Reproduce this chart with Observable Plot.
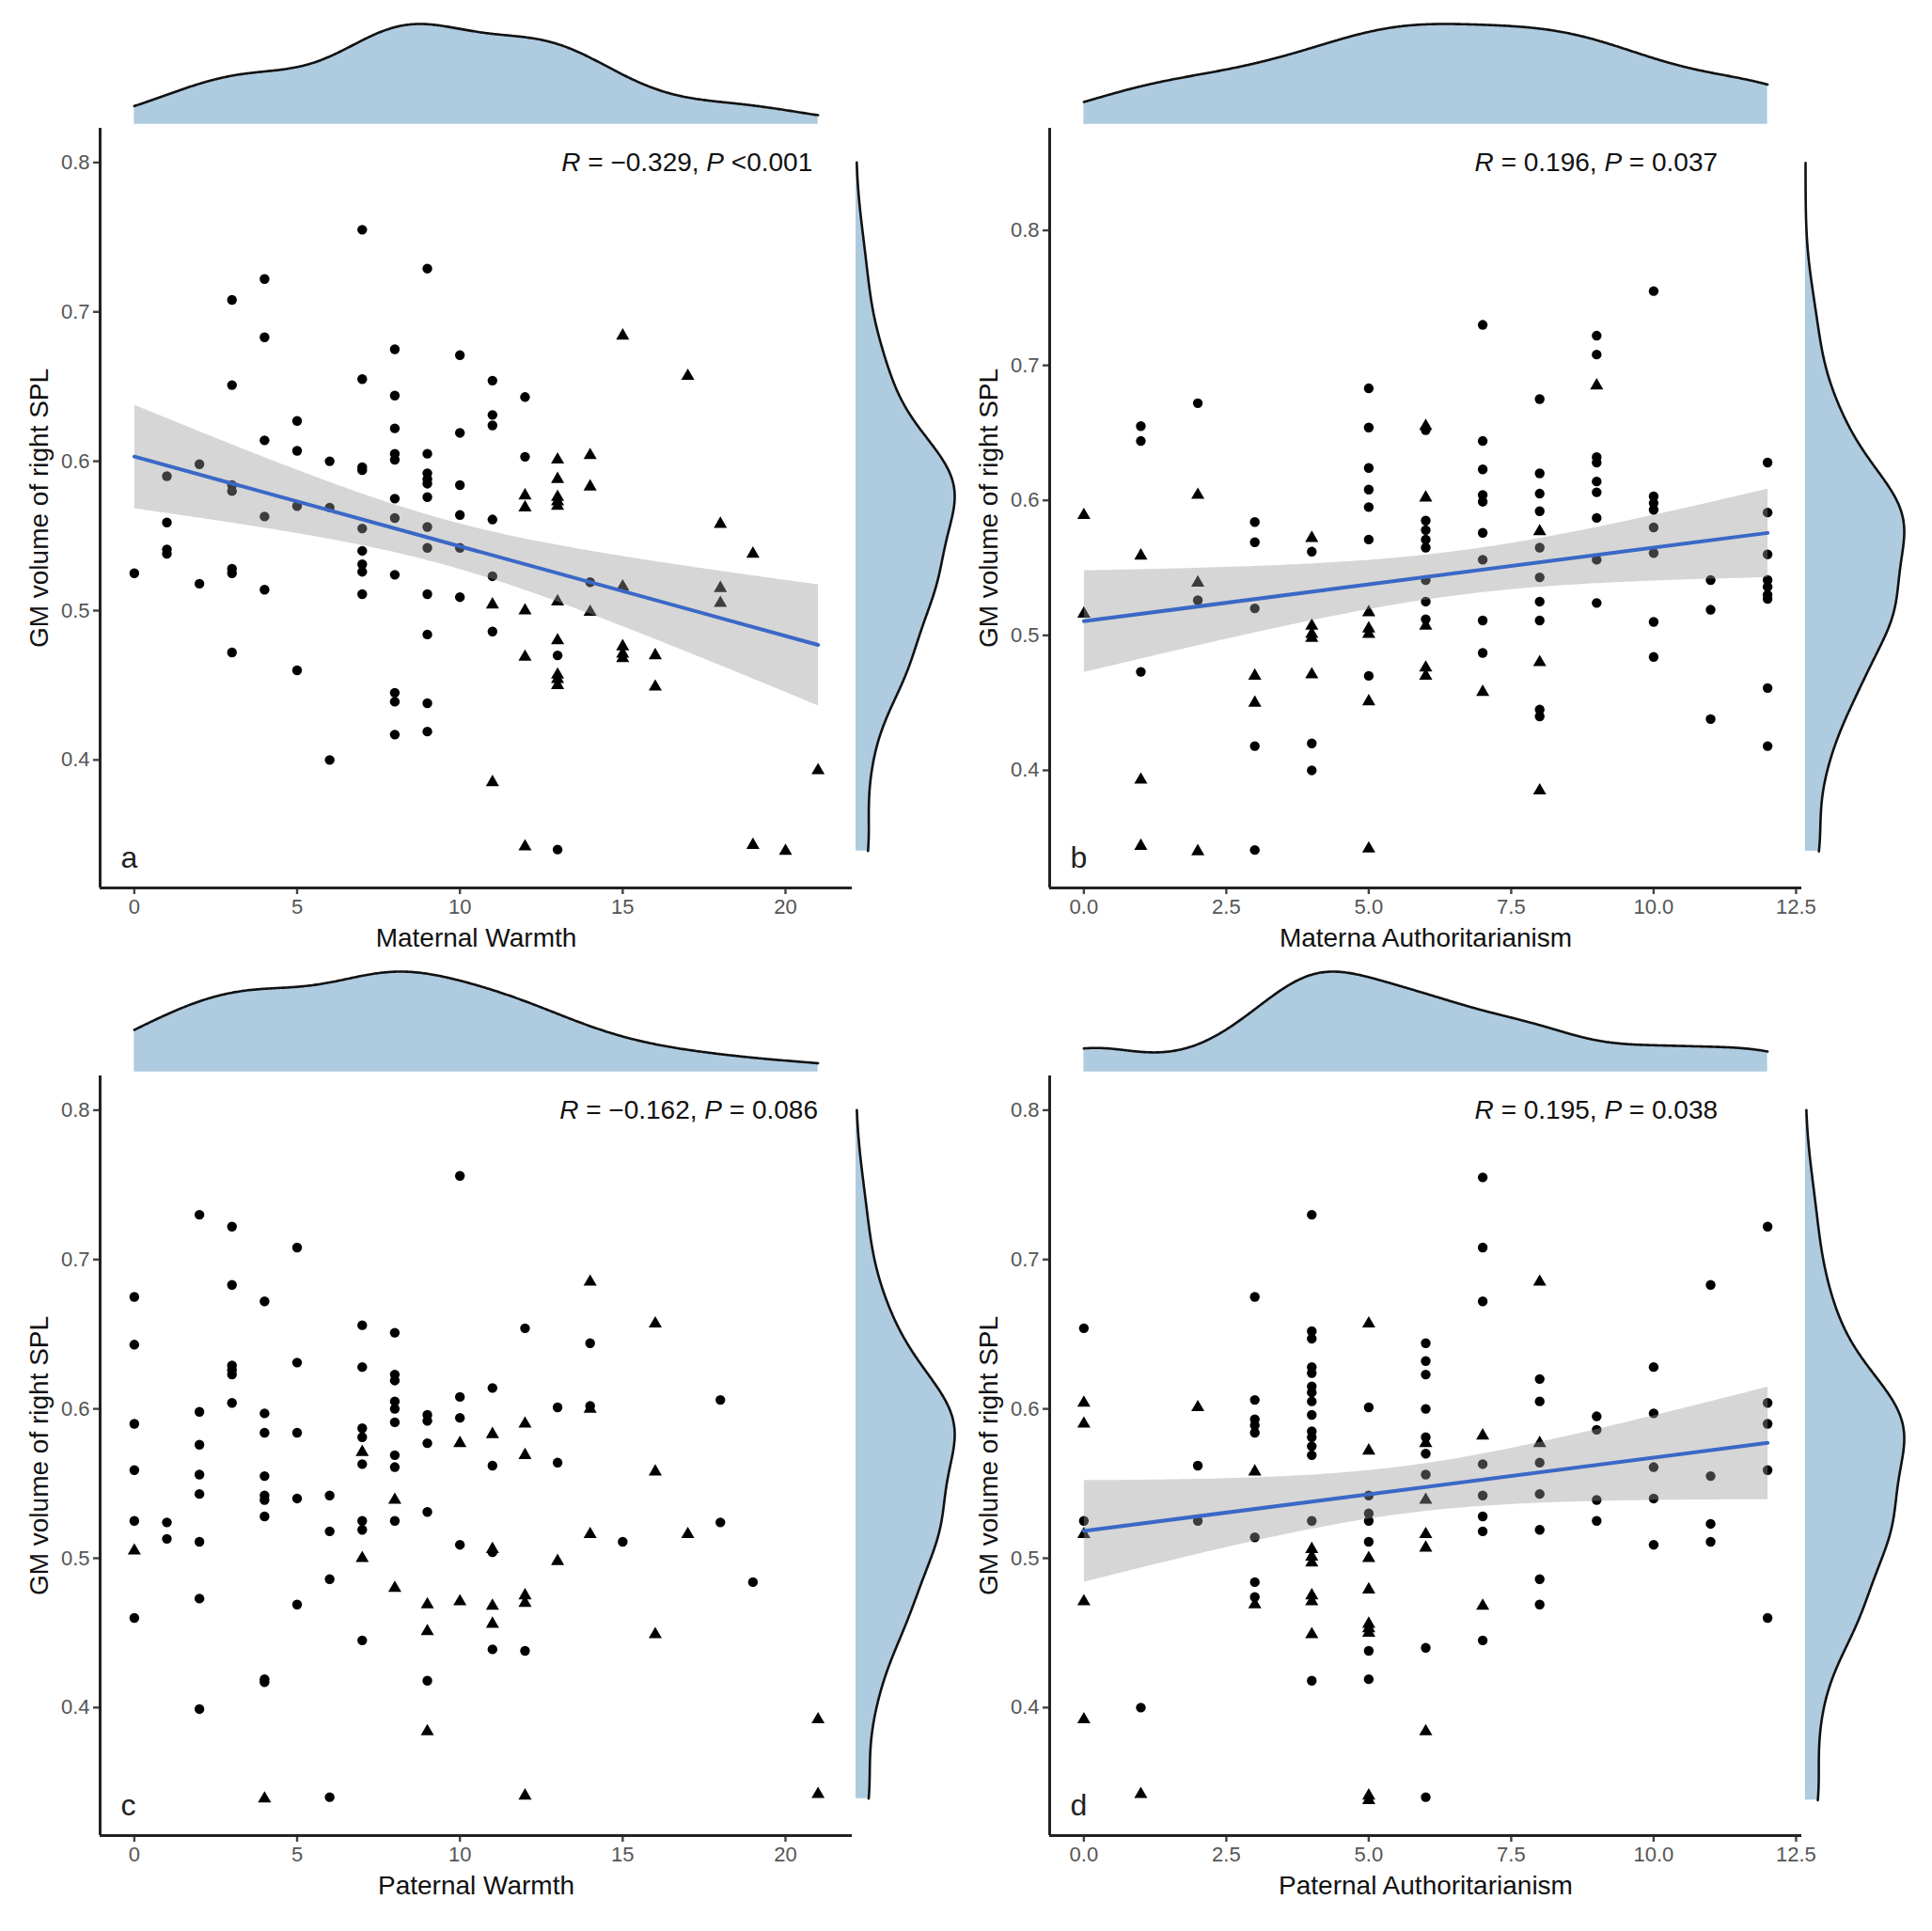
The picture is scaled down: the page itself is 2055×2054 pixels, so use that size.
<!DOCTYPE html>
<html><head><meta charset="utf-8">
<script src="https://cdn.jsdelivr.net/npm/d3@7"></script>
<script src="https://cdn.jsdelivr.net/npm/@observablehq/plot@0.6"></script>
<style>
html,body{margin:0;padding:0;background:#fff;}
#root{position:relative;width:2055px;height:2054px;overflow:hidden;background:#fff;}
.piece{position:absolute;}
.piece svg{max-width:none !important;display:block;}
</style></head><body><div id="root"></div>
<script>
// ---------------- data ----------------
const yTitle = "GM volume of right SPL";
const xTitles = ["Maternal Warmth", "Materna Authoritarianism", "Paternal Warmth", "Paternal Authoritarianism"];
const letters = ["a", "b", "c", "d"];
const rValues = ["−0.329", "0.196", "−0.162", "0.195"];
const pValues = ["<0.001", "= 0.037", "= 0.086", "= 0.038"];
const yTicks = [0.4, 0.5, 0.6, 0.7, 0.8];
const warmthTicks = [0, 5, 10, 15, 20];
const authTicks = [0, 2.5, 5, 7.5, 10, 12.5];

const panelA_circles = [
 [0,.525],
 [1,.590],[1,.559],[1,.541],[1,.538],
 [2,.598],[2,.518],
 [3,.708],[3,.651],[3,.584],[3,.580],[3,.528],[3,.525],[3,.472],
 [4,.722],[4,.683],[4,.614],[4,.563],[4,.514],
 [5,.627],[5,.607],[5,.570],[5,.460],
 [6,.600],[6,.569],[6,.400],
 [7,.755],[7,.655],[7,.596],[7,.594],[7,.555],[7,.540],[7,.531],[7,.526],[7,.511],
 [8,.675],[8,.644],[8,.622],[8,.605],[8,.601],[8,.575],[8,.562],[8,.524],[8,.445],[8,.439],[8,.417],
 [9,.729],[9,.605],[9,.592],[9,.588],[9,.585],[9,.576],[9,.556],[9,.542],[9,.511],[9,.484],[9,.438],[9,.419],
 [10,.671],[10,.619],[10,.584],[10,.564],[10,.542],[10,.509],
 [11,.654],[11,.631],[11,.624],[11,.561],[11,.523],[11,.486],
 [12,.643],[12,.603],
 [13,.470],[13,.340],
 [14,.519]
];
const panelA_triangles = [
 [11,.504],[11,.385],
 [12,.577],[12,.569],[12,.500],[12,.469],[12,.342],
 [13,.601],[13,.588],[13,.576],[13,.573],[13,.570],[13,.506],[13,.480],[13,.457],[13,.454],[13,.450],
 [14,.604],[14,.583],[14,.499],
 [15,.684],[15,.516],[15,.476],[15,.471],[15,.468],
 [16,.470],[16,.449],
 [17,.657],
 [18,.558],[18,.515],[18,.505],
 [19,.538],[19,.343],
 [20,.339],
 [21,.393]
];

const panelB_circles = [
 [1,.655],[1,.644],[1,.473],
 [2,.672],[2,.526],
 [3,.584],[3,.569],[3,.520],[3,.418],[3,.341],
 [4,.562],[4,.420],[4,.400],
 [5,.683],[5,.654],[5,.624],[5,.608],[5,.595],[5,.571],[5,.470],
 [6,.652],[6,.585],[6,.578],[6,.571],[6,.565],[6,.541],[6,.525],[6,.512],
 [7,.730],[7,.644],[7,.623],[7,.604],[7,.599],[7,.576],[7,.556],[7,.511],[7,.487],
 [8,.675],[8,.620],[8,.605],[8,.592],[8,.565],[8,.543],[8,.525],[8,.511],[8,.445],[8,.440],
 [9,.722],[9,.708],[9,.632],[9,.628],[9,.614],[9,.606],[9,.587],[9,.556],[9,.524],
 [10,.755],[10,.603],[10,.598],[10,.593],[10,.580],[10,.561],[10,.510],[10,.484],
 [11,.541],[11,.519],[11,.438],
 [12,.628],[12,.591],[12,.560],[12,.541],[12,.536],[12,.530],[12,.527],[12,.461],[12,.418]
];
const panelB_triangles = [
 [0,.589],[0,.516],
 [1,.559],[1,.393],[1,.344],
 [2,.604],[2,.539],[2,.340],
 [3,.470],[3,.450],
 [4,.572],[4,.507],[4,.501],[4,.498],[4,.471],
 [5,.517],[5,.505],[5,.501],[5,.451],[5,.342],
 [6,.655],[6,.602],[6,.507],[6,.476],[6,.470],
 [7,.458],
 [8,.577],[8,.480],[8,.385],
 [9,.685]
];

const panelC_circles = [
 [0,.675],[0,.643],[0,.590],[0,.559],[0,.525],[0,.460],
 [1,.524],[1,.513],
 [2,.730],[2,.598],[2,.576],[2,.556],[2,.543],[2,.511],[2,.473],[2,.399],
 [3,.722],[3,.683],[3,.629],[3,.626],[3,.623],[3,.604],
 [4,.672],[4,.597],[4,.584],[4,.555],[4,.542],[4,.539],[4,.528],[4,.419],[4,.417],
 [5,.708],[5,.631],[5,.584],[5,.540],[5,.469],
 [6,.542],[6,.518],[6,.486],[6,.340],
 [7,.656],[7,.628],[7,.587],[7,.581],[7,.563],[7,.525],[7,.519],[7,.445],
 [8,.651],[8,.623],[8,.619],[8,.605],[8,.600],[8,.591],[8,.569],[8,.561],[8,.525],
 [9,.596],[9,.592],[9,.577],[9,.531],[9,.418],
 [10,.756],[10,.608],[10,.594],[10,.509],
 [11,.614],[11,.562],[11,.504],[11,.439],
 [12,.654],[12,.438],
 [13,.601],[13,.564],
 [14,.644],[14,.602],
 [15,.511],
 [18,.606],[18,.524],
 [19,.484]
];
const panelC_triangles = [
 [0,.505],
 [4,.339],
 [7,.571],[7,.500],
 [8,.539],[8,.480],
 [9,.469],[9,.451],[9,.384],
 [10,.577],[10,.471],
 [11,.583],[11,.506],[11,.468],[11,.456],
 [12,.590],[12,.569],[12,.475],[12,.470],[12,.341],
 [13,.498],
 [14,.685],[14,.600],[14,.516],
 [16,.657],[16,.558],[16,.449],
 [17,.516],
 [21,.392],[21,.342]
];

const panelD_circles = [
 [0,.654],[0,.525],
 [1,.400],
 [2,.562],[2,.525],
 [3,.675],[3,.606],[3,.593],[3,.589],[3,.584],[3,.514],[3,.484],[3,.474],
 [4,.730],[4,.652],[4,.647],[4,.628],[4,.624],[4,.615],[4,.611],[4,.605],[4,.596],[4,.585],[4,.581],[4,.575],[4,.569],[4,.525],[4,.418],
 [5,.601],[5,.542],[5,.530],[5,.525],[5,.511],[5,.438],[5,.419],
 [6,.644],[6,.632],[6,.623],[6,.600],[6,.581],[6,.570],[6,.556],[6,.440],[6,.340],
 [7,.755],[7,.708],[7,.672],[7,.563],[7,.542],[7,.528],[7,.518],[7,.445],
 [8,.620],[8,.605],[8,.564],[8,.543],[8,.519],[8,.486],[8,.469],
 [9,.595],[9,.586],[9,.539],[9,.525],
 [10,.628],[10,.597],[10,.561],[10,.540],[10,.509],
 [11,.683],[11,.555],[11,.523],[11,.511],
 [12,.722],[12,.604],[12,.590],[12,.559],[12,.460]
];
const panelD_triangles = [
 [0,.604],[0,.590],[0,.516],[0,.471],[0,.392],
 [1,.342],
 [2,.601],
 [3,.558],[3,.469],
 [4,.506],[4,.501],[4,.497],[4,.475],[4,.471],[4,.449],
 [5,.657],[5,.572],[5,.500],[5,.479],[5,.456],[5,.453],[5,.450],[5,.341],[5,.338],
 [6,.577],[6,.539],[6,.516],[6,.507],[6,.384],
 [7,.582],[7,.468],
 [8,.685],[8,.577]
];

// ---------------- panel configuration ----------------
const panels = [
 {left: 0,    top: 0,    circles: panelA_circles, triangles: panelA_triangles, xDomain: [-1.05, 22.05], yDomain: [0.3143, 0.8229], xTicks: warmthTicks, xFormat: d3.format("d"),   labelX: 13.12, labelY: 0.80, fit: true},
 {left: 1010, top: 0,    circles: panelB_circles, triangles: panelB_triangles, xDomain: [-0.6, 12.6],   yDomain: [0.3129, 0.8756], xTicks: authTicks,   xFormat: d3.format(".1f"), labelX: 6.86,  labelY: 0.85, fit: true},
 {left: 0,    top: 1008, circles: panelC_circles, triangles: panelC_triangles, xDomain: [-1.05, 22.05], yDomain: [0.3143, 0.8229], xTicks: warmthTicks, xFormat: d3.format("d"),   labelX: 13.06, labelY: 0.80, fit: false},
 {left: 1010, top: 1008, circles: panelD_circles, triangles: panelD_triangles, xDomain: [-0.6, 12.6],   yDomain: [0.3143, 0.8229], xTicks: authTicks,   xFormat: d3.format(".1f"), labelX: 6.86,  labelY: 0.80, fit: true}
];

// ---------------- drawing ----------------
const FONT = '"Liberation Sans", Arial, Helvetica, sans-serif';
const FILL = "#aecbe0";
const root = document.getElementById("root");
function place(node, left, top) {
  const d = document.createElement("div");
  d.className = "piece";
  d.style.left = left + "px";
  d.style.top = top + "px";
  d.appendChild(node);
  root.appendChild(d);
}
// gaussian kernel density, bandwidth rule nrd0 (as R's density())
function kde(values, lo, hi, n = 512) {
  const s = values.slice().sort(d3.ascending);
  const sd = d3.deviation(s);
  const iqr = d3.quantileSorted(s, 0.75) - d3.quantileSorted(s, 0.25);
  let lim = Math.min(sd, iqr / 1.34);
  if (!(lim > 0)) lim = sd;
  const bw = 0.9 * lim * Math.pow(s.length, -0.2);
  const k = 1 / (bw * Math.sqrt(2 * Math.PI));
  return d3.range(n).map(i => {
    const v = lo + (hi - lo) * i / (n - 1);
    const d = k * d3.mean(s, x => Math.exp(-0.5 * ((v - x) / bw) ** 2));
    return {v, d};
  });
}

panels.forEach((p, i) => {
  const circ = p.circles.map(([x, y]) => ({x, y}));
  const tri = p.triangles.map(([x, y]) => ({x, y}));
  const all = circ.concat(tri);
  const label = `R = ${rValues[i]}, P ${pValues[i]}`;

  const main = Plot.plot({
    width: 910, height: 874,
    marginLeft: 106, marginRight: 4, marginTop: 0, marginBottom: 66,
    style: {fontFamily: FONT, background: "transparent", overflow: "visible"},
    x: {domain: p.xDomain},
    y: {domain: p.yDomain},
    marks: [
      Plot.axisX({ticks: p.xTicks, tickFormat: p.xFormat, tickSize: 7, tickPadding: 5, fontSize: 22, stroke: "#444", strokeWidth: 2.4, fill: "#555", label: null}),
      Plot.axisY({ticks: yTicks, tickFormat: d3.format(".1f"), tickSize: 7, tickPadding: 4, fontSize: 22, stroke: "#444", strokeWidth: 2.4, fill: "#555", label: null}),
      Plot.ruleX([p.xDomain[0]], {stroke: "#222", strokeWidth: 3}),
      Plot.ruleY([p.yDomain[0]], {stroke: "#222", strokeWidth: 3}),
      Plot.dot(circ, {x: "x", y: "y", r: 5.2, fill: "#000", symbol: "circle"}),
      Plot.dot(tri, {x: "x", y: "y", r: 5.2, fill: "#000", symbol: "triangle"}),
      p.fit ? Plot.linearRegressionY(all, {x: "x", y: "y", stroke: "#3a68c6", strokeWidth: 4, fill: "#999999", fillOpacity: 0.4, ci: 0.95}) : null,
      Plot.text([letters[i]], {frameAnchor: "bottom-left", dx: 22, dy: -22, textAnchor: "start", lineAnchor: "bottom", fontSize: 32, fill: "#222"}),
      Plot.text([{x: p.labelX, y: p.labelY}], {x: "x", y: "y", text: () => label, textAnchor: "start", lineAnchor: "middle", fontSize: 28, fill: "#111"}),
      Plot.text([xTitles[i]], {frameAnchor: "bottom", dy: 62, textAnchor: "middle", lineAnchor: "bottom", fontSize: 28, fill: "#111"}),
      Plot.text([yTitle], {frameAnchor: "left", dx: -56, rotate: -90, textAnchor: "middle", lineAnchor: "bottom", fontSize: 28, fill: "#111"})
    ]
  });
  // italic R and P, as in the reference
  const NS = "http://www.w3.org/2000/svg";
  main.querySelectorAll("text").forEach(t => {
    if (t.textContent === label) {
      while (t.firstChild) t.removeChild(t.firstChild);
      const add = (s, it) => {
        const ts = document.createElementNS(NS, "tspan");
        ts.textContent = s;
        if (it) ts.setAttribute("font-style", "italic");
        t.appendChild(ts);
      };
      add("R", true); add(` = ${rValues[i]}, `); add("P", true); add(` ${pValues[i]}`);
    }
  });
  place(main, p.left, p.top + 136);

  // top marginal density of x
  const xs = all.map(d => d.x);
  const dx = kde(xs, d3.min(xs), d3.max(xs));
  const topD = Plot.plot({
    width: 910, height: 136, marginLeft: 106, marginRight: 4, marginTop: 0, marginBottom: 0,
    style: {background: "transparent", overflow: "visible"},
    x: {domain: p.xDomain, axis: null},
    y: {domain: [0, d3.max(dx, d => d.d)], range: [131.7, 25], axis: null},
    marks: [
      Plot.areaY(dx, {x: "v", y: "d", fill: FILL}),
      Plot.lineY(dx, {x: "v", y: "d", stroke: "#111", strokeWidth: 2.6})
    ]
  });
  place(topD, p.left, p.top);

  // right marginal density of y
  const ys = all.map(d => d.y);
  const dy = kde(ys, d3.min(ys), p.labelY);
  const rightD = Plot.plot({
    width: 124, height: 808, marginLeft: 0, marginRight: 0, marginTop: 0, marginBottom: 0,
    style: {background: "transparent", overflow: "visible"},
    x: {domain: [0, d3.max(dy, d => d.d)], range: [4, 109], axis: null},
    y: {domain: p.yDomain, axis: null},
    marks: [
      Plot.areaX(dy, {y: "v", x: "d", fill: FILL}),
      Plot.lineX(dy, {y: "v", x: "d", stroke: "#111", strokeWidth: 2.6})
    ]
  });
  place(rightD, p.left + 906, p.top + 136);
});
</script></body></html>
